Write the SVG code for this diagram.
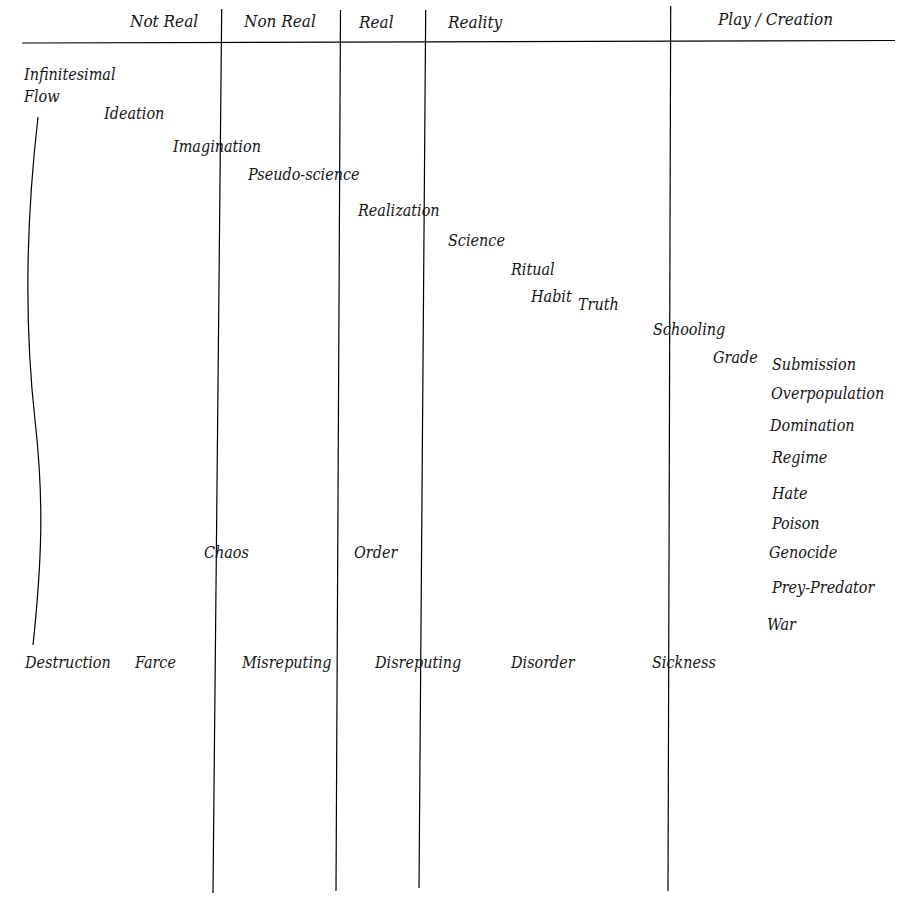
<svg xmlns="http://www.w3.org/2000/svg" width="922" height="922" viewBox="0 0 922 922">
<style>
text{font-family:"DejaVu Serif Condensed","DejaVu Serif",serif;font-style:italic;font-size:16px;fill:#151515}
.hd text{font-size:17px}
.ln{stroke:#000;stroke-width:1.2;fill:none}
</style>
<rect width="922" height="922" fill="#fff"/>
<g id="grid">
<line class="ln" x1="22" y1="43" x2="895" y2="40.5"/>
<line class="ln" x1="221.7" y1="9" x2="213" y2="893"/>
<line class="ln" x1="340.5" y1="10" x2="336" y2="891"/>
<line class="ln" x1="425.7" y1="10" x2="419" y2="888"/>
<line class="ln" x1="670.7" y1="6" x2="668" y2="891"/>
<path class="ln" d="M38,117 C25,230 25,330 35,420 C44,500 42,560 33,645"/>
</g>
<g id="headers" class="hd">
<text x="130" y="27">Not Real</text>
<text x="244" y="27">Non Real</text>
<text x="359" y="28">Real</text>
<text x="448" y="28">Reality</text>
<text x="718" y="25">Play / Creation</text>
</g>
<g id="labels">
<text x="24" y="80">Infinitesimal</text>
<text x="24" y="102">Flow</text>
<text x="104" y="119">Ideation</text>
<text x="173" y="152">Imagination</text>
<text x="248" y="180">Pseudo-science</text>
<text x="358" y="216">Realization</text>
<text x="448" y="246">Science</text>
<text x="511" y="275">Ritual</text>
<text x="531" y="302">Habit</text>
<text x="578" y="310">Truth</text>
<text x="653" y="335">Schooling</text>
<text x="713" y="363">Grade</text>
<text x="772" y="370">Submission</text>
<text x="771" y="399">Overpopulation</text>
<text x="770" y="431">Domination</text>
<text x="772" y="463">Regime</text>
<text x="772" y="499">Hate</text>
<text x="772" y="529">Poison</text>
<text x="769" y="558">Genocide</text>
<text x="772" y="593">Prey-Predator</text>
<text x="767" y="630">War</text>
<text x="204" y="558">Chaos</text>
<text x="354" y="558">Order</text>
<text x="25" y="668">Destruction</text>
<text x="135" y="668">Farce</text>
<text x="242" y="668">Misreputing</text>
<text x="375" y="668">Disreputing</text>
<text x="511" y="668">Disorder</text>
<text x="652" y="668">Sickness</text>
</g>
</svg>
